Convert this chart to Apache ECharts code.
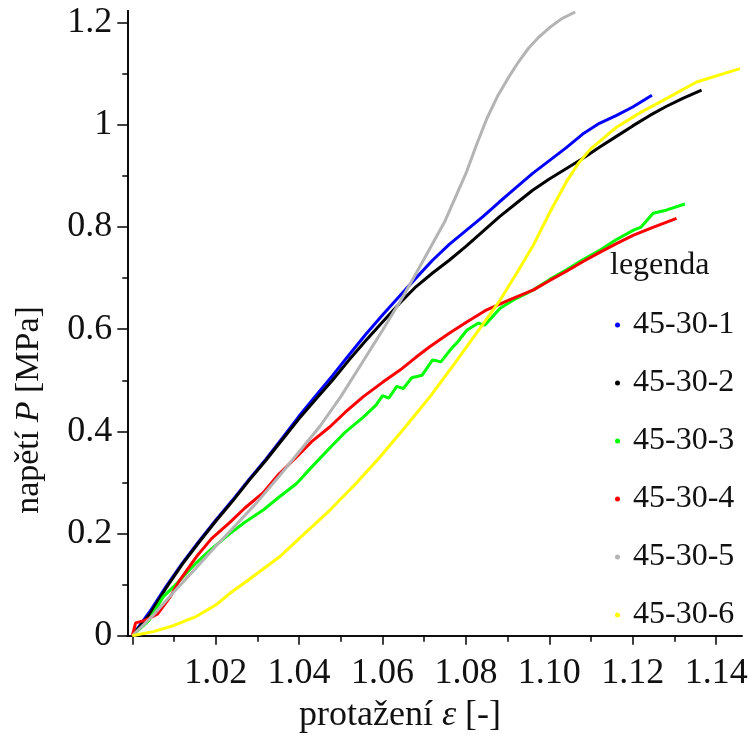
<!DOCTYPE html>
<html>
<head>
<meta charset="utf-8">
<script src="https://cdn.jsdelivr.net/npm/echarts@6/dist/echarts.min.js"></script>
<style>
  html, body { margin: 0; padding: 0; background: #ffffff; }
  #chart { width: 753px; height: 747px; }
</style>
</head>
<body>
<div id="chart"></div>
<script>
// Stress–strain curves of six 45-30 specimens: strain (protažení) vs. stress (napětí, MPa)
const seriesNames = ['45-30-1', '45-30-2', '45-30-3', '45-30-4', '45-30-5', '45-30-6'];
const seriesColors = ['#0000ff', '#000000', '#00ff00', '#ff0000', '#b4b4b4', '#ffff00'];

const curve1 = [
  [1.000, 0.000], [1.004, 0.045], [1.008, 0.095], [1.012, 0.142], [1.016, 0.185],
  [1.020, 0.226], [1.024, 0.265], [1.028, 0.306], [1.032, 0.345], [1.036, 0.387],
  [1.040, 0.430], [1.044, 0.470], [1.048, 0.509], [1.052, 0.550], [1.056, 0.590],
  [1.060, 0.628], [1.064, 0.664], [1.068, 0.700], [1.072, 0.735], [1.076, 0.766],
  [1.080, 0.793], [1.084, 0.820], [1.088, 0.849], [1.092, 0.877], [1.096, 0.905],
  [1.100, 0.930], [1.104, 0.955], [1.108, 0.982], [1.112, 1.003], [1.116, 1.018],
  [1.120, 1.035], [1.1246, 1.058]
];

const curve2 = [
  [1.000, 0.000], [1.004, 0.040], [1.008, 0.092], [1.012, 0.140], [1.016, 0.183],
  [1.020, 0.224], [1.024, 0.263], [1.028, 0.304], [1.032, 0.343], [1.036, 0.384],
  [1.040, 0.425], [1.044, 0.463], [1.048, 0.500], [1.052, 0.540], [1.056, 0.578],
  [1.060, 0.614], [1.064, 0.650], [1.068, 0.683], [1.072, 0.710], [1.076, 0.735],
  [1.080, 0.762], [1.084, 0.791], [1.088, 0.820], [1.092, 0.846], [1.096, 0.872],
  [1.100, 0.894], [1.104, 0.914], [1.108, 0.934], [1.112, 0.956], [1.116, 0.977],
  [1.120, 0.998], [1.124, 1.018], [1.128, 1.036], [1.132, 1.052], [1.1365, 1.068]
];

const curve3 = [
  [1.000, 0.000], [1.004, 0.030], [1.0074, 0.076], [1.011, 0.105], [1.015, 0.140],
  [1.019, 0.170], [1.0234, 0.200], [1.027, 0.222], [1.0314, 0.246], [1.035, 0.270],
  [1.0394, 0.298], [1.043, 0.330], [1.0474, 0.368], [1.051, 0.398], [1.0554, 0.428],
  [1.0585, 0.452], [1.060, 0.470], [1.0615, 0.465], [1.0634, 0.488], [1.065, 0.484],
  [1.067, 0.505], [1.0695, 0.510], [1.072, 0.540], [1.074, 0.536], [1.0765, 0.562],
  [1.078, 0.575], [1.0802, 0.598], [1.083, 0.612], [1.0845, 0.608], [1.0882, 0.641],
  [1.092, 0.660], [1.0962, 0.677], [1.100, 0.697], [1.104, 0.716], [1.108, 0.736],
  [1.1122, 0.755], [1.116, 0.775], [1.1202, 0.794], [1.122, 0.800], [1.1249, 0.827],
  [1.128, 0.833], [1.1325, 0.845]
];

const curve4 = [
  [1.000, 0.000], [1.0008, 0.025], [1.003, 0.030], [1.006, 0.042], [1.009, 0.075],
  [1.0114, 0.109], [1.0154, 0.155], [1.019, 0.190], [1.0234, 0.222], [1.027, 0.250],
  [1.0314, 0.280], [1.035, 0.315], [1.0394, 0.350], [1.043, 0.380], [1.0474, 0.409],
  [1.051, 0.437], [1.0554, 0.468], [1.060, 0.496], [1.0642, 0.520], [1.068, 0.545],
  [1.0714, 0.566], [1.076, 0.592], [1.0802, 0.614], [1.085, 0.638], [1.090, 0.656],
  [1.0962, 0.677], [1.100, 0.695], [1.104, 0.713], [1.1082, 0.733], [1.1122, 0.751],
  [1.1162, 0.768], [1.1202, 0.784], [1.125, 0.800], [1.1305, 0.817]
];

const curve5 = [
  [1.000, 0.000], [1.005, 0.040], [1.010, 0.086], [1.015, 0.130], [1.020, 0.175],
  [1.025, 0.218], [1.030, 0.262], [1.035, 0.310], [1.040, 0.360], [1.045, 0.410],
  [1.050, 0.468], [1.055, 0.533], [1.060, 0.598], [1.065, 0.665], [1.070, 0.738],
  [1.075, 0.812], [1.080, 0.905], [1.0825, 0.960], [1.085, 1.012], [1.0875, 1.055],
  [1.090, 1.090], [1.0925, 1.122], [1.095, 1.150], [1.0975, 1.172], [1.100, 1.190],
  [1.103, 1.208], [1.1062, 1.221]
];

const curve6 = [
  [1.000, 0.000], [1.005, 0.008], [1.010, 0.020], [1.0154, 0.038], [1.020, 0.060],
  [1.0234, 0.083], [1.028, 0.110], [1.0354, 0.155], [1.040, 0.190], [1.0474, 0.246],
  [1.0534, 0.296], [1.0594, 0.350], [1.0654, 0.408], [1.0714, 0.468], [1.0774, 0.534],
  [1.0834, 0.602], [1.0882, 0.657], [1.0922, 0.710], [1.0962, 0.765], [1.1002, 0.830],
  [1.1042, 0.890], [1.107, 0.925], [1.1098, 0.952], [1.1162, 0.996], [1.122, 1.025],
  [1.1273, 1.048], [1.1353, 1.084], [1.1457, 1.110]
];

const curves = [curve1, curve2, curve3, curve4, curve5, curve6];

const xTickLabels = [1.02, 1.04, 1.06, 1.08, 1.10, 1.12, 1.14];
const xMajorTicks = [1.00, 1.02, 1.04, 1.06, 1.08, 1.10, 1.12, 1.14];
const xMinorTicks = [1.01, 1.03, 1.05, 1.07, 1.09, 1.11, 1.13];
const yTickLabels = [0, 0.2, 0.4, 0.6, 0.8, 1, 1.2];
const yMinorTicks = [0.1, 0.3, 0.5, 0.7, 0.9, 1.1];

const xRange = [0.9988, 1.1462];
const yRange = [0, 1.2235];

const serif = '"Liberation Serif", "Times New Roman", serif';
const axisColor = '#000000';
const textColor = '#111111';

const chart = echarts.init(document.getElementById('chart'), null, { renderer: 'canvas' });

const baseAxis = {
  type: 'value',
  splitLine: { show: false },
  axisLine: { show: true, onZero: false, lineStyle: { color: axisColor, width: 1.6 } }
};

chart.setOption({
  animation: false,
  backgroundColor: '#ffffff',
  grid: { left: 127.3, right: 11, top: 10.7, bottom: 111.3, containLabel: false },
  xAxis: [
    Object.assign({}, baseAxis, {
      min: xRange[0], max: xRange[1],
      axisTick: { show: true, length: 6, lineStyle: { color: axisColor, width: 1.5 }, customValues: xMinorTicks },
      axisLabel: { show: false }
    }),
    Object.assign({}, baseAxis, {
      min: xRange[0], max: xRange[1], position: 'bottom',
      axisTick: { show: true, length: 9, lineStyle: { color: axisColor, width: 1.5 }, customValues: xMajorTicks },
      axisLabel: {
        show: true, customValues: xTickLabels, margin: 20,
        formatter: v => v.toFixed(2),
        fontFamily: serif, fontSize: 36, color: textColor
      }
    })
  ],
  yAxis: [
    Object.assign({}, baseAxis, {
      min: yRange[0], max: yRange[1],
      axisTick: { show: true, length: 5, lineStyle: { color: axisColor, width: 1.5 }, customValues: yMinorTicks },
      axisLabel: { show: false }
    }),
    Object.assign({}, baseAxis, {
      min: yRange[0], max: yRange[1], position: 'left',
      axisTick: { show: true, length: 10, lineStyle: { color: axisColor, width: 1.5 }, customValues: yTickLabels },
      axisLabel: {
        show: true, customValues: yTickLabels, margin: 15,
        formatter: v => String(v),
        fontFamily: serif, fontSize: 36, color: textColor
      }
    })
  ],
  legend: {
    orient: 'vertical',
    left: 615,
    top: 309,
    padding: 0,
    itemGap: 26,
    itemWidth: 21,
    itemHeight: 5,
    icon: 'circle',
    data: seriesNames,
    textStyle: { fontFamily: serif, fontSize: 32, lineHeight: 32, color: textColor, padding: 0 }
  },
  graphic: [
    {
      type: 'text', x: 610, y: 250,
      style: { text: 'legenda', font: '32px ' + serif, fill: textColor, align: 'left', verticalAlign: 'top' }
    },
    {
      type: 'text', x: 400, y: 716,
      style: {
        text: '{r|protažení }{i|ε}{r| [-]}',
        align: 'center', verticalAlign: 'middle',
        rich: {
          r: { fontFamily: serif, fontSize: 36, fill: textColor },
          i: { fontFamily: serif, fontSize: 36, fontStyle: 'italic', fill: textColor }
        }
      }
    },
    {
      type: 'text', x: 29, y: 410, rotation: Math.PI / 2,
      style: {
        text: '{r|napětí }{i|P}{r| [MPa]}',
        align: 'center', verticalAlign: 'middle',
        rich: {
          r: { fontFamily: serif, fontSize: 34, fill: textColor },
          i: { fontFamily: serif, fontSize: 34, fontStyle: 'italic', fill: textColor }
        }
      }
    }
  ],
  series: seriesNames.map((name, i) => ({
    name: name,
    type: 'line',
    xAxisIndex: 0,
    yAxisIndex: 0,
    data: curves[i],
    showSymbol: false,
    symbol: 'circle',
    color: seriesColors[i],
    lineStyle: { color: seriesColors[i], width: 3 },
    itemStyle: { color: seriesColors[i] },
    emphasis: { disabled: true },
    z: 2 + i
  }))
});
</script>
</body>
</html>
